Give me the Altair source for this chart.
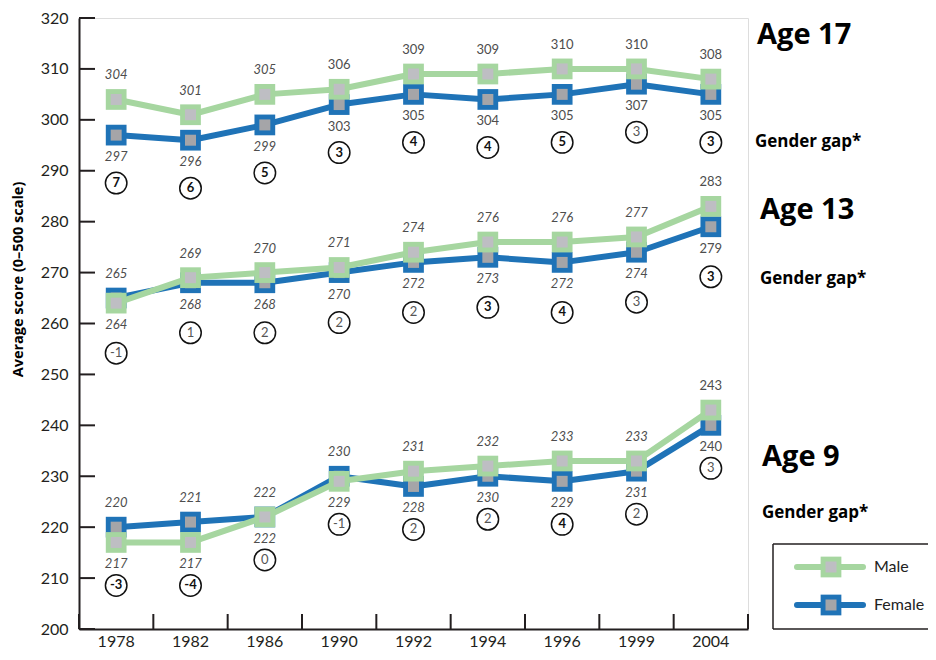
import altair as alt
import pandas as pd

# ---------------- data ----------------
years = ["1978", "1982", "1986", "1990", "1992", "1994", "1996", "1999", "2004"]
ages = ["Age 17", "Age 13", "Age 9"]

male_17 = [304, 301, 305, 306, 309, 309, 310, 310, 308]
female_17 = [297, 296, 299, 303, 305, 304, 305, 307, 305]
gap_17 = ["7", "6", "5", "3", "4", "4", "5", "3", "3"]
gap_bold_17 = [1, 1, 1, 1, 1, 1, 1, 0, 1]
italic_17 = [1, 1, 1, 0, 0, 0, 0, 0, 0]

male_13 = [264, 269, 270, 271, 274, 276, 276, 277, 283]
female_13 = [265, 268, 268, 270, 272, 273, 272, 274, 279]
gap_13 = ["-1", "1", "2", "2", "2", "3", "4", "3", "3"]
gap_bold_13 = [0, 0, 0, 0, 0, 1, 1, 0, 1]
italic_13 = [1, 1, 1, 1, 1, 1, 1, 1, 0]

male_9 = [217, 217, 222, 229, 231, 232, 233, 233, 243]
female_9 = [220, 221, 222, 230, 228, 230, 229, 231, 240]
gap_9 = ["-3", "-4", "0", "-1", "2", "2", "4", "2", "3"]
gap_bold_9 = [1, 1, 0, 0, 0, 0, 1, 0, 0]
italic_9 = [1, 1, 1, 1, 1, 1, 1, 1, 0]

y_ticks = [200, 210, 220, 230, 240, 250, 260, 270, 280, 290, 300, 310, 320]

# ---------------- styling ----------------
FONT = "Lato"
HEAD = "Open Sans"
GREEN = "#A6D6A0"
BLUE = "#1F73B7"
IN_M = "#BEBEC3"
IN_F = "#A5A5A8"
INK = "#231F20"
LBL = "#4D4D4D"
W, H = 669, 611

series = {
    "Age 17": (male_17, female_17, gap_17, gap_bold_17, italic_17, 48),
    "Age 13": (male_13, female_13, gap_13, gap_bold_13, italic_13, 50),
    "Age 9": (male_9, female_9, gap_9, gap_bold_9, italic_9, 43),
}

rows, labels, gaps = [], [], []
for age in ages:
    m, f, g, gb, it, off = series[age]
    for i, yr in enumerate(years):
        rows.append({"year": yr, "age": age, "gender": "Male", "score": m[i]})
        rows.append({"year": yr, "age": age, "gender": "Female", "score": f[i]})
        hi, lo = (m[i], f[i]) if m[i] >= f[i] else (f[i], m[i])
        labels.append({"year": yr, "score": hi, "pos": "above", "italic": it[i]})
        labels.append({"year": yr, "score": lo, "pos": "below", "italic": it[i]})
        gaps.append({"year": yr, "age": age, "score": lo, "gap": g[i], "bold": gb[i]})

df = pd.DataFrame(rows)
lab = pd.DataFrame(labels)
gp = pd.DataFrame(gaps)
tick_df = pd.DataFrame({"score": y_ticks})
year_df = pd.DataFrame({"year": years})

xscale = alt.Scale(type="band", paddingInner=0, paddingOuter=0, domain=years)
yscale = alt.Scale(domain=[200, 320], nice=False, zero=False)

x_axis = alt.Axis(title=None, labelFontSize=16, labelColor=INK, ticks=False,
                  domainColor=INK, domainWidth=2, labelPadding=4, labelAngle=0,
                  grid=False, labelFont=FONT)
y_axis = alt.Axis(title="Average score (0–500 scale)", values=y_ticks, ticks=False,
                  labelFontSize=16, labelColor=INK, labelPadding=11, labelFont=FONT,
                  domainColor=INK, domainWidth=2, grid=False,
                  titleFontSize=14.5, titleFontWeight="bold", titleColor="#000",
                  titleFont=HEAD, titleAngle=270, titleX=-61, titleY=261,
                  titleAlign="center", titleBaseline="middle")


def X(bp=0.5):
    return alt.X("year:O", scale=xscale, axis=x_axis, bandPosition=bp, sort=years)


def Y():
    return alt.Y("score:Q", scale=yscale, axis=y_axis)


one = pd.DataFrame({"k": [0]})
layers = []

# tick marks drawn inside the plot
layers.append(alt.Chart(tick_df).mark_rule(color=INK, strokeWidth=2).encode(
    y=Y(), x=alt.value(0), x2=alt.value(16)))
layers.append(alt.Chart(year_df).mark_rule(color=INK, strokeWidth=2).encode(
    x=X(0), y=alt.value(H - 15), y2=alt.value(H)))
layers.append(alt.Chart(one).mark_rule(color=INK, strokeWidth=2).encode(
    x=alt.value(W), y=alt.value(H - 15), y2=alt.value(H)))

# series: female first, male on top
for gender, col, inner in [("Female", BLUE, IN_F), ("Male", GREEN, IN_M)]:
    base = alt.Chart(df).transform_filter(alt.datum.gender == gender)
    layers.append(base.mark_line(color=col, strokeWidth=6, strokeJoin="round",
                                 strokeCap="round").encode(
        x=X(), y=Y(), detail="age:N"))
    layers.append(base.mark_square(color=col, size=430, opacity=1).encode(x=X(), y=Y()))
    layers.append(base.mark_square(color=inner, size=121, opacity=1).encode(x=X(), y=Y()))

# value labels
for pos, dy in [("above", -24), ("below", 22)]:
    for itv, style in [(1, "italic"), (0, "normal")]:
        layers.append(alt.Chart(lab).transform_filter(
            (alt.datum.pos == pos) & (alt.datum.italic == itv)
        ).mark_text(fontSize=13, color=LBL, font=FONT, fontStyle=style, dy=dy,
                    baseline="middle").encode(x=X(), y=Y(), text="score:Q"))

# gender gap circles
for age in ages:
    off = series[age][5]
    base = alt.Chart(gp).transform_filter(alt.datum.age == age)
    layers.append(base.mark_point(shape="circle", size=462, filled=True, fill="white",
                                  stroke="#111", strokeWidth=1.5, opacity=1,
                                  yOffset=off).encode(x=X(), y=Y()))
    for b, wt, colr in [(1, "bold", "#111"), (0, "normal", "#555")]:
        layers.append(base.transform_filter(alt.datum.bold == b).mark_text(
            fontSize=13, fontWeight=wt, color=colr, font=FONT, baseline="middle",
            yOffset=off).encode(x=X(), y=Y(), text="gap:N"))

# right-side annotations
annot = [("Age 17", 678, 17, 29), ("Gender gap*", 676, 124, 17),
         ("Age 13", 681, 192, 29), ("Gender gap*", 681, 261, 17),
         ("Age 9", 683, 439, 29), ("Gender gap*", 683, 495, 17)]
for txt, ax, ay, fs in annot:
    layers.append(alt.Chart(one).mark_text(
        text=txt, align="left", baseline="middle", fontSize=fs, fontWeight="bold",
        color="#000", font=HEAD).encode(x=alt.value(ax), y=alt.value(ay)))

# legend (drawn)
LX, LT, LB, LR = 694, 526, H, 870
layers.append(alt.Chart(one).mark_rule(color=INK, strokeWidth=1.5).encode(
    x=alt.value(LX), y=alt.value(LT), y2=alt.value(LB)))
for yy in (LT, LB):
    layers.append(alt.Chart(one).mark_rule(color=INK, strokeWidth=1.5).encode(
        x=alt.value(LX), x2=alt.value(LR), y=alt.value(yy)))
for name, col, inner, yy in [("Male", GREEN, IN_M, 549), ("Female", BLUE, IN_F, 587)]:
    layers.append(alt.Chart(one).mark_rule(color=col, strokeWidth=6, strokeCap="round").encode(
        x=alt.value(718), x2=alt.value(784), y=alt.value(yy)))
    layers.append(alt.Chart(one).mark_square(color=col, size=430, opacity=1).encode(
        x=alt.value(752), y=alt.value(yy)))
    layers.append(alt.Chart(one).mark_square(color=inner, size=121, opacity=1).encode(
        x=alt.value(752), y=alt.value(yy)))
    layers.append(alt.Chart(one).mark_text(
        text=name, align="left", baseline="middle", fontSize=16, color="#222",
        font=FONT).encode(x=alt.value(795), y=alt.value(yy)))

chart = alt.layer(*layers).properties(
    width=W, height=H,
    autosize=alt.AutoSizeParams(type="none"),
    padding={"left": 71, "top": 10, "right": 180, "bottom": 23},
).configure_view(fill="#F0F7EF", stroke=None).configure(font=FONT)

chart.save("out.html", embed_options={"renderer": "svg", "actions": False})
